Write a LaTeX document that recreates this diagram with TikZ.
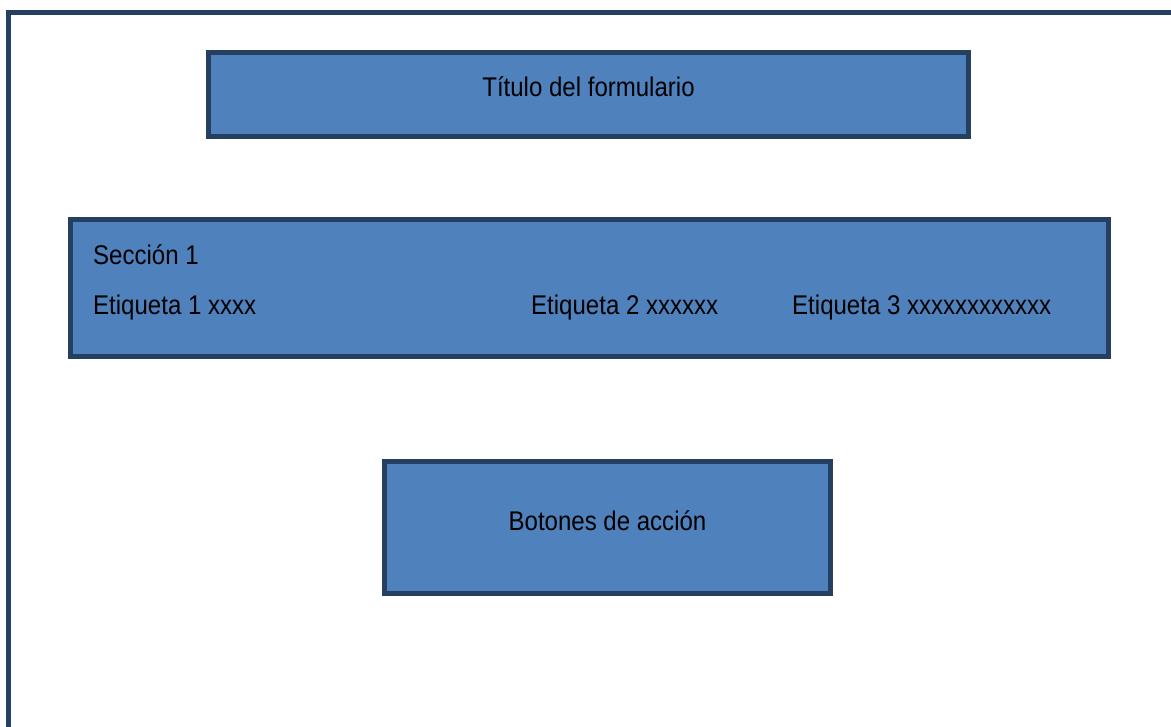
\documentclass[tikz,border=0pt]{standalone}
\usepackage{fontspec}
\setmainfont[FakeStretch=0.89]{Liberation Sans}
\usepackage{tikz}
\usepackage{xcolor}
\definecolor{cajaazul}{HTML}{4F81BD}
\definecolor{bordeazul}{HTML}{243F60}
\tikzset{
    caja/.style={rectangle, draw=bordeazul, fill=cajaazul, line width=5pt, inner sep=0pt},
    texto/.style={inner sep=0pt, font=\fontsize{27}{32}\selectfont, text=black}
}

\begin{document}
\begin{tikzpicture}[x=1pt, y=-1pt]
            \useasboundingbox (0, 0) rectangle (1171, 727);
            \clip (0, 0) rectangle (1171, 727);
            \draw[line width=5pt, bordeazul] (8.5, 13) rectangle (1190, 750);
            \node[caja, minimum width=760pt, minimum height=84pt] (titulo) at (588.5, 94.5) {};
            \node[caja, minimum width=1038pt, minimum height=137pt] (seccion) at (589.5, 288) {};
            \node[caja, minimum width=446pt, minimum height=132pt] (botones) at (607.5, 527.5) {};
            \node[texto, anchor=base] (tituloTexto) at (588.5, 97) {Título del formulario};
            \node[texto, anchor=base west] (seccionTexto) at (93, 265) {Sección 1};
            \node[texto, anchor=base west] (etiquetaUno) at (93, 315) {Etiqueta 1 xxxx};
            \node[texto, anchor=base west] (etiquetaDos) at (531, 315) {Etiqueta 2 xxxxxx};
            \node[texto, anchor=base west] (etiquetaTres) at (792, 315) {Etiqueta 3 xxxxxxxxxxxx};
            \node[texto, anchor=base] (botonesTexto) at (607.5, 530) {Botones de acción};
        \end{tikzpicture}
\end{document}
